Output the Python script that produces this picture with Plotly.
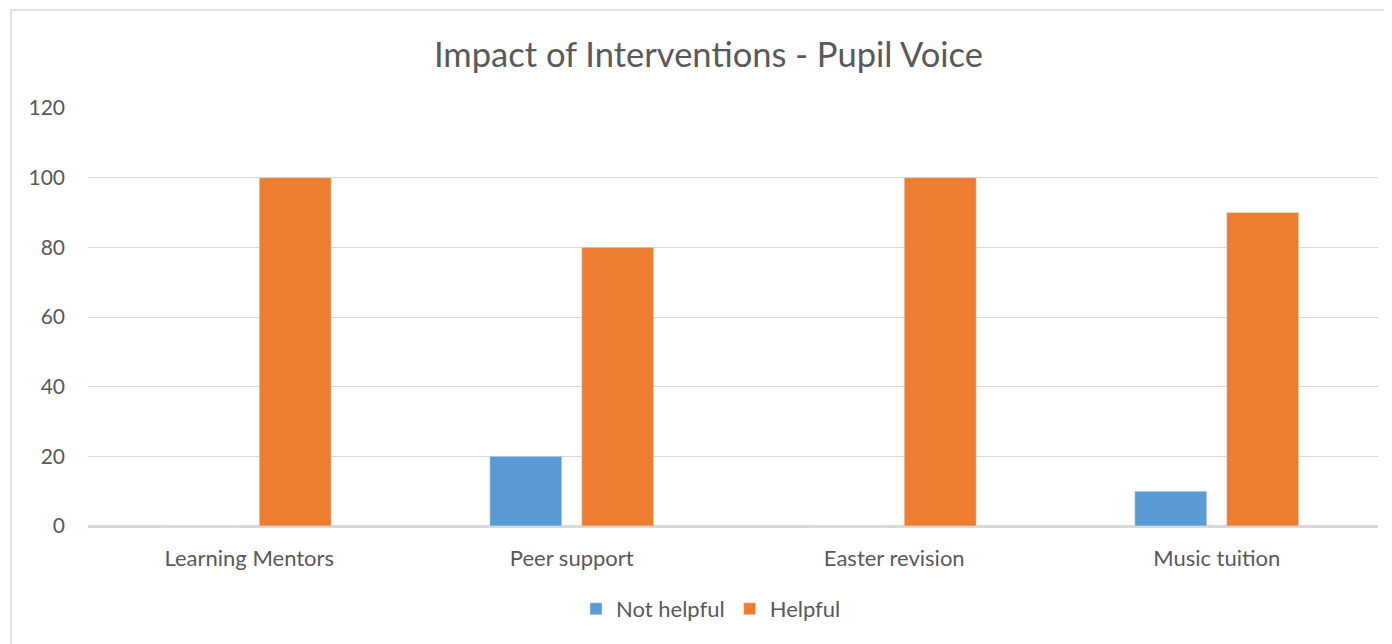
import plotly.graph_objects as go

categories = ["Learning Mentors", "Peer support", "Easter revision", "Music tuition"]
not_helpful = [0, 20, 0, 10]
helpful = [100, 80, 100, 90]
y_ticks = [0, 20, 40, 60, 80, 100, 120]

FONT = "Lato"
TXT = "#595959"
GRID = "#D9D9D9"

fig = go.Figure()
fig.add_trace(go.Bar(name="Not helpful", x=categories, y=not_helpful, marker_color="#5B9BD5"))
fig.add_trace(go.Bar(name="Helpful", x=categories, y=helpful, marker_color="#ED7D31"))

OFF = 8  # browser body margin
W, H = 1392 - OFF, 644 - OFF
L, T = 88 - OFF, 108 - OFF
R = W - (1378 - OFF)
B = H - (526 - OFF)
pw, ph = W - L - R, H - T - B

def px_x(x):
    return (x - OFF - L) / pw

def px_y(y):
    return (H - B - (y - OFF)) / ph

fig.update_layout(
    width=W, height=H,
    margin=dict(l=L, r=R, t=T, b=B),
    paper_bgcolor="white", plot_bgcolor="white",
    barmode="group", bargap=0.43, bargroupgap=0.217,
    font=dict(family=FONT, color=TXT, size=20),
    title=dict(text="Impact of Interventions - Pupil Voice", x=(708.5 - OFF) / W, xanchor="center",
               xref="container",
               y=1 - (55 - OFF) / H, yanchor="middle", yref="container",
               font=dict(family=FONT, size=34.5, color=TXT)),
    legend=dict(orientation="h", x=0.5 - 22 / pw, xanchor="center", y=px_y(609), yanchor="middle",
                font=dict(family=FONT, size=22, color=TXT), itemwidth=30),
    xaxis=dict(showgrid=False, showline=True, linecolor=GRID, linewidth=1.5,
               tickfont=dict(family=FONT, size=22, color=TXT), ticks="", ticklabelstandoff=12),
    yaxis=dict(range=[0, 120], tickvals=y_ticks, showgrid=True, gridcolor=GRID, gridwidth=1.3,
               zeroline=True, zerolinecolor=GRID, zerolinewidth=1.5, showline=False,
               tickfont=dict(family=FONT, size=21, color=TXT), ticks="", ticklabelstandoff=22),
    shapes=[dict(type="rect", xref="paper", yref="paper",
                 x0=px_x(11), x1=px_x(1402), y0=px_y(660), y1=px_y(10),
                 line=dict(color=GRID, width=1.5), fillcolor="rgba(0,0,0,0)", layer="below")],
)

fig.write_html("out.html")
